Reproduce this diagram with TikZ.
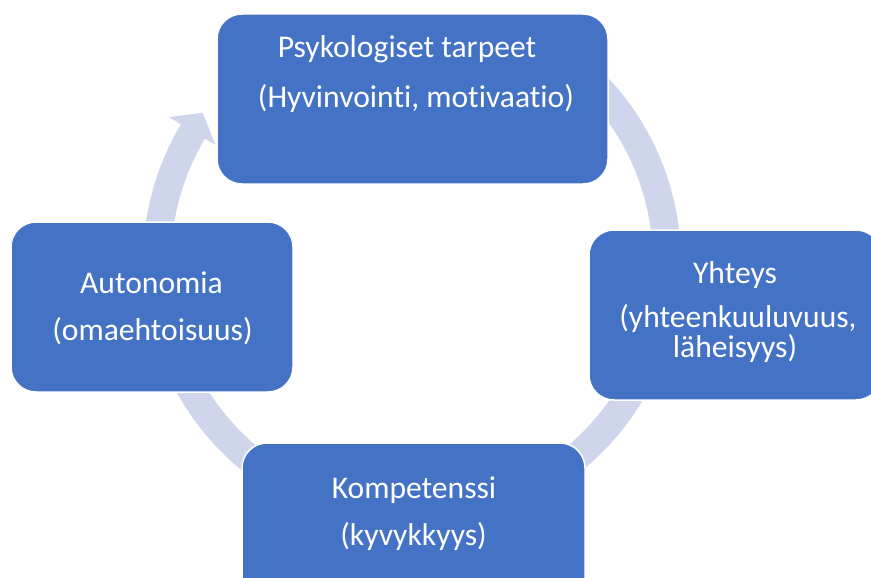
\documentclass[tikz,border=0pt]{standalone}
\usepackage{fontspec}
\setmainfont{Carlito}[Ligatures=NoCommon]
\definecolor{boxblue}{HTML}{4472C4}
\definecolor{ringlav}{HTML}{CFD5EA}

\begin{document}
\begin{tikzpicture}[x=1pt,y=-1pt,
  cyclebox/.style={draw=white, line width=1.5pt, fill=boxblue, rounded corners=25pt,
    inner sep=0pt, minimum height=170pt},
  lbl/.style={text=white, font=\fontsize{31.6}{30}\selectfont, inner sep=0pt, anchor=base},
  ring/.style={draw=ringlav, line width=28pt},
]
\useasboundingbox (0,0) rectangle (871,578);
\clip (0,0) rectangle (871,578);

% circular arrow band running clockwise, ending in a head at the upper left
\coordinate (c) at (412,262);
\draw[ring, shift={(c)}] (-50:255) arc[start angle=-50, end angle=211, radius=255];
\fill[ringlav, shift={(c)}] (210.8:283) -- (215.5:257) -- (210.8:229) -- cycle;

% the four boxes of the cycle
\node[cyclebox, minimum width=391pt] (needs) at (412.5,99) {};
\node[cyclebox, minimum width=292pt] (relate) at (735,315) {};
\node[cyclebox, minimum width=343pt] (compet) at (413.5,528) {};
\node[cyclebox, minimum width=282pt] (auton) at (152,307) {};

% labels
\node[lbl] (needs1) at (407,58) {Psykologiset tarpeet};
\node[lbl] (needs2) at (416,107) {(Hyvinvointi, motivaatio)};
\node[lbl] (relate1) at (735,283) {Yhteys};
\node[lbl] (relate2) at (738,327) {(yhteenkuuluvuus,};
\node[lbl] (relate3) at (735,357) {läheisyys)};
\node[lbl] (compet1) at (414,498) {Kompetenssi};
\node[lbl] (compet2) at (413.5,545) {(kyvykkyys)};
\node[lbl] (auton1) at (151.5,293) {Autonomia};
\node[lbl] (auton2) at (152.5,340) {(omaehtoisuus)};
\end{tikzpicture}
\end{document}
